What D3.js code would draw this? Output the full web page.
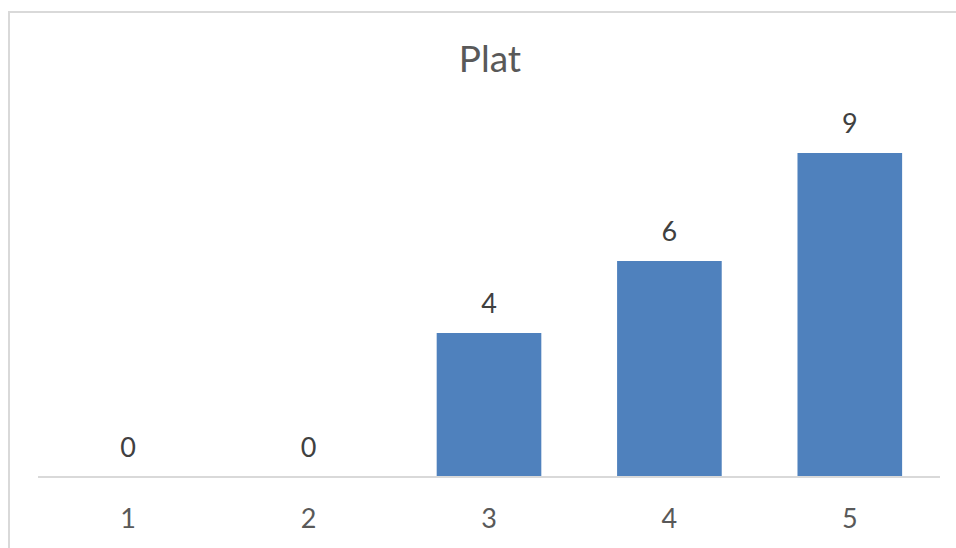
<!DOCTYPE html>
<html>
<head>
<meta charset="utf-8">
<script src="https://cdn.jsdelivr.net/npm/d3@7"></script>
<style>
  body { margin: 0; background: #fff; }
  svg { display: block; font-family: Lato, "Open Sans", sans-serif; }
</style>
</head>
<body>
<svg id="chart"></svg>
<script>
// data
let categories = ["1", "2", "3", "4", "5"];
let values = [0, 0, 4, 6, 9];
let title = "Plat";

let W = 956, H = 548;
let svg = d3.select("#chart")
    .attr("width", W)
    .attr("height", H);

// chart border (runs off the right/bottom edges)
svg.append("rect")
    .attr("x", 9)
    .attr("y", 12)
    .attr("width", 960)
    .attr("height", 560)
    .attr("fill", "#fff")
    .attr("stroke", "#d9d9d9")
    .attr("stroke-width", 2);

let x = d3.scaleBand()
    .domain(categories)
    .range([38, 940])
    .paddingInner(0.42)
    .paddingOuter(0.21);

let y = d3.scaleLinear()
    .domain([0, 10])
    .range([477, 117]);

// bars
svg.selectAll(".bar")
    .data(values)
    .enter().append("rect")
    .attr("class", "bar")
    .attr("x", (d, i) => x(categories[i]))
    .attr("y", d => y(d))
    .attr("width", x.bandwidth())
    .attr("height", d => y(0) - y(d))
    .attr("fill", "#4f81bd");

// axis line
svg.append("line")
    .attr("x1", 38)
    .attr("x2", 940)
    .attr("y1", y(0))
    .attr("y2", y(0))
    .attr("stroke", "#d9d9d9")
    .attr("stroke-width", 2);

// category labels
svg.selectAll(".tick-label")
    .data(categories)
    .enter().append("text")
    .attr("class", "tick-label")
    .attr("x", d => x(d) + x.bandwidth() / 2)
    .attr("y", 528)
    .attr("text-anchor", "middle")
    .style("font-size", "27px")
    .style("fill", "#595959")
    .text(d => d);

// data labels
svg.selectAll(".val-label")
    .data(values)
    .enter().append("text")
    .attr("class", "val-label")
    .attr("x", (d, i) => x(categories[i]) + x.bandwidth() / 2)
    .attr("y", d => y(d) - 20)
    .attr("text-anchor", "middle")
    .style("font-size", "27px")
    .style("fill", "#404040")
    .text(d => d);

// title
svg.append("text")
    .attr("x", 490)
    .attr("y", 72)
    .attr("text-anchor", "middle")
    .style("font-size", "37px")
    .style("fill", "#595959")
    .text(title);
</script>
</body>
</html>
